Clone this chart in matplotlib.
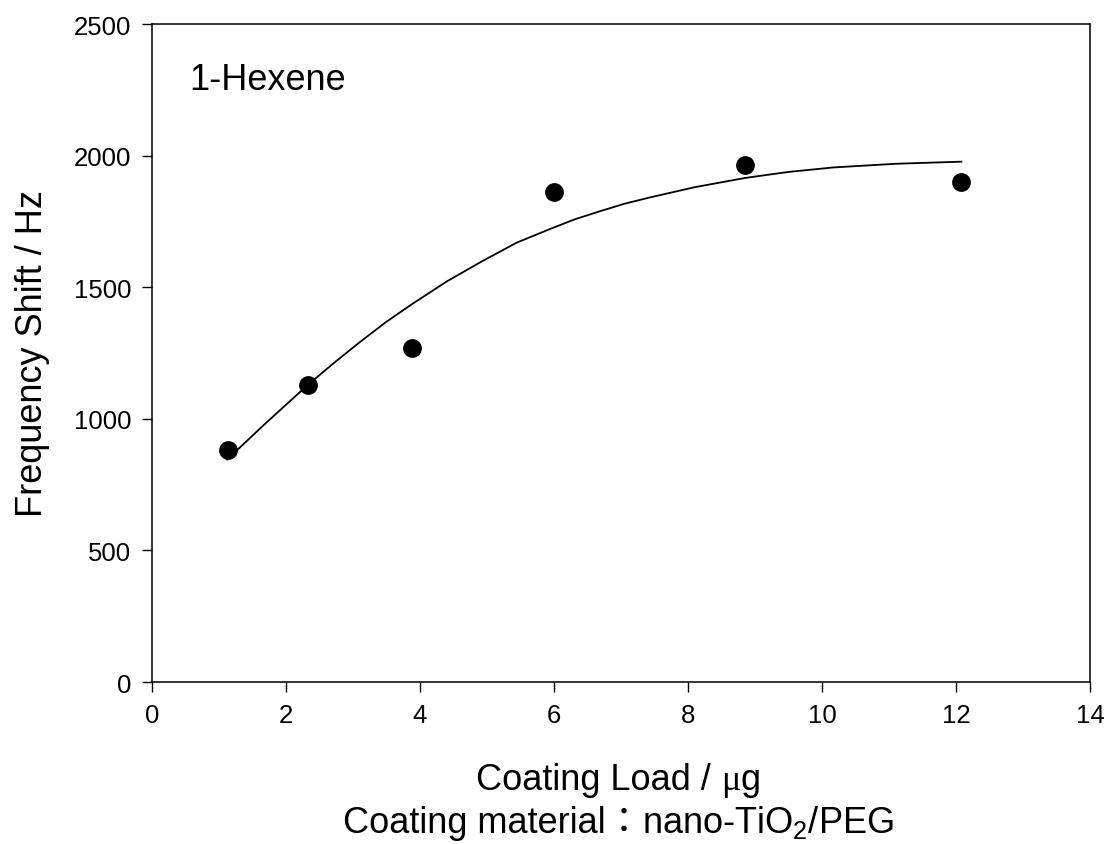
import matplotlib
matplotlib.use("Agg")
import matplotlib.pyplot as plt

plt.rcParams['font.family'] = ['Liberation Sans', 'Noto Sans CJK TC', 'DejaVu Sans']
plt.rcParams['mathtext.fontset'] = 'custom'
plt.rcParams['mathtext.rm'] = 'Liberation Sans'
plt.rcParams['mathtext.it'] = 'Liberation Sans'

# Measured frequency shifts
coating_load = [1.13, 2.33, 3.88, 6.00, 8.85, 12.07]
freq_shift = [882, 1130, 1268, 1860, 1963, 1900]

# Fitted trend curve
fit_load = [1.12, 1.70, 2.31, 2.70, 3.10, 3.50, 3.90, 4.40, 4.95, 5.45, 5.94,
            6.30, 6.69, 7.05, 7.43, 8.10, 8.85, 9.50, 10.17, 11.10, 12.08]
fit_shift = [845, 984, 1125, 1209, 1291, 1369, 1439, 1522, 1602, 1670, 1721,
             1757, 1789, 1817, 1841, 1880, 1915, 1938, 1955, 1969, 1977]

x_ticks = [0, 2, 4, 6, 8, 10, 12, 14]
y_ticks = [0, 500, 1000, 1500, 2000, 2500]

W, H = 1111, 845
fig = plt.figure(figsize=(W / 100, H / 100), dpi=100)
ax = fig.add_axes([0.1368, 0.1917, 0.8443, 0.7787])

ax.plot(fit_load, fit_shift, color='black', lw=1.3, zorder=2,
        solid_joinstyle='round')
ax.plot(coating_load, freq_shift, 'o', color='black', ms=12.5, zorder=3)

ax.set_xlim(0, 14)
ax.set_ylim(0, 2500)
ax.set_xticks(x_ticks)
ax.set_yticks(y_ticks)
ax.tick_params(direction='out', length=7, width=1, labelsize=18.5, pad=8)
for sp in ax.spines.values():
    sp.set_linewidth(1.1)

ax.set_ylabel('Frequency Shift / Hz', fontsize=26, labelpad=17)
ax.text(1.72, 2290, '1-Hexene', fontsize=26, ha='center', va='center')

renderer = fig.canvas.get_renderer()


def centered_line(parts, cx_px, baseline_px, size=26):
    """Place differently-styled pieces side by side, centred on cx_px."""
    texts = []
    for s, fam in parts:
        t = fig.text(0, 1 - baseline_px / H, s, fontsize=size, family=fam,
                     ha='left', va='baseline')
        texts.append(t)
    widths = [t.get_window_extent(renderer).width for t in texts]
    x0 = cx_px - sum(widths) / 2
    for t, w in zip(texts, widths):
        t.set_x(x0 / W)
        x0 += w


# Two-line x-axis caption
centered_line([('Coating Load / ', ['Liberation Sans']),
               ('\u03bc', ['Liberation Serif']),
               ('g', ['Liberation Sans'])], 618, 790)
centered_line([('Coating material', ['Liberation Sans']),
               ('\uff1a', ['Noto Sans CJK TC']),
               ('nano-TiO$_2$/PEG', ['Liberation Sans'])], 618, 833)

fig.savefig('out.png', dpi=100)
